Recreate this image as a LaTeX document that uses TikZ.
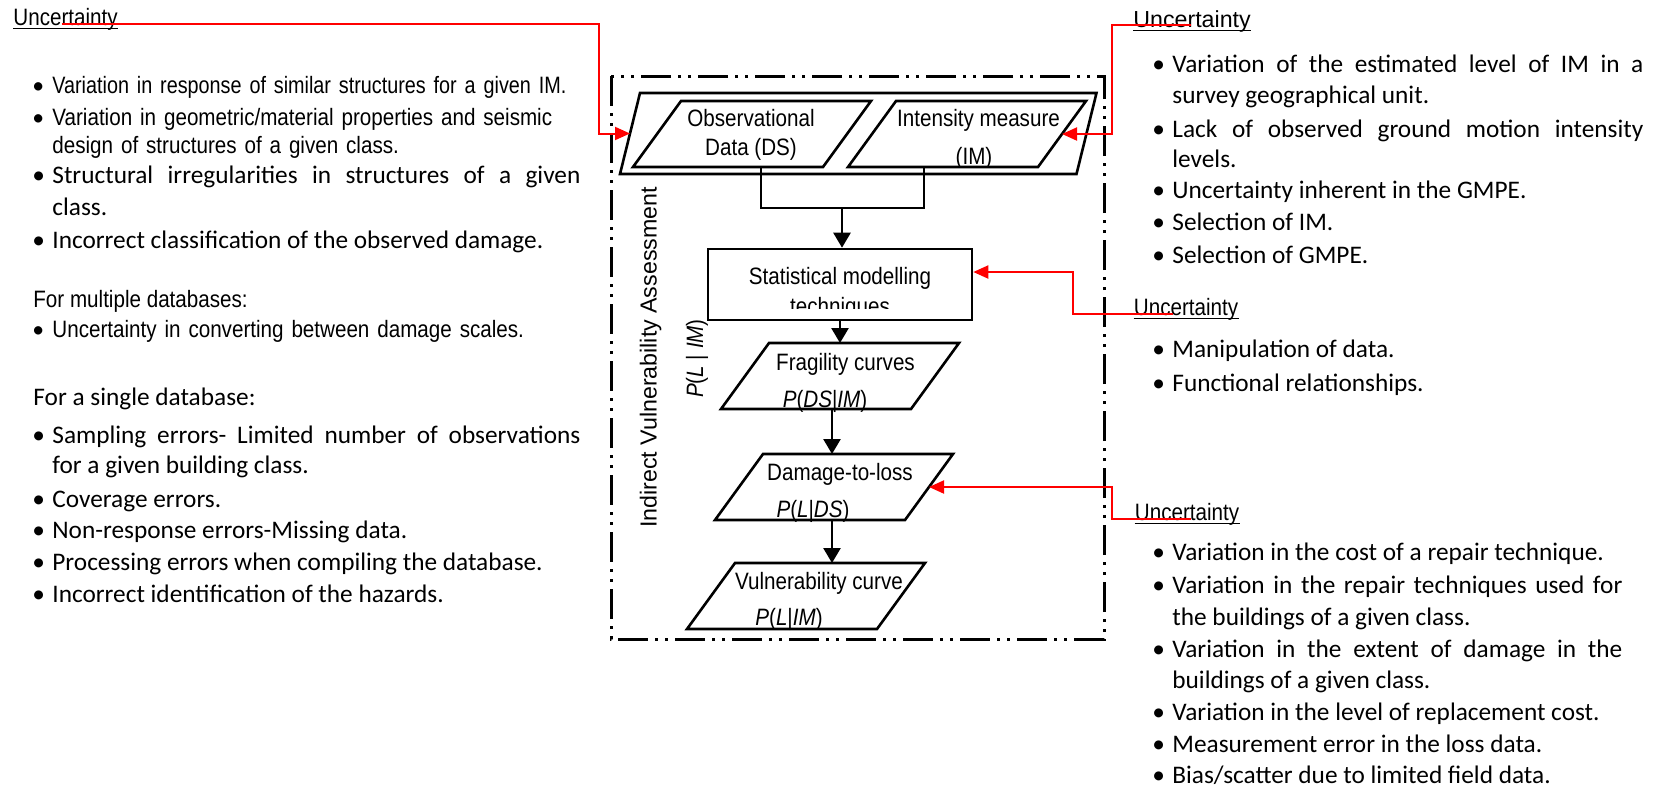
\documentclass[tikz,border=0pt]{standalone}
\usepackage{fontspec}
\setmainfont{Carlito}
\newfontfamily\arialn[FakeStretch=0.87]{Liberation Sans}
\newfontfamily\arialc[FakeStretch=0.835]{Liberation Sans}
\newfontfamily\arial{Liberation Sans}
\usetikzlibrary{arrows.meta,calc}
\tolerance=9999
\hbadness=10000
\newcommand{\calfont}{\fontsize{12.65}{15.5}\selectfont}
\newcommand{\narfont}{\arialn\fontsize{11.85}{14}\selectfont}
\newcommand{\bul}[1]{\hangindent=10pt\hangafter=1\makebox[10pt][l]{\normalfont\textbullet}#1\par}
\begin{document}
\begin{tikzpicture}[x=0.5pt,y=-0.5pt,
  box/.style={draw, line width=1.3pt},
  flow/.style={line width=1.3pt, -{Triangle[length=7.5pt,width=8.5pt]}},
  risk/.style={red, line width=1pt, -{Triangle[length=7.5pt,width=6.5pt]}},
  frame/.style={line width=1.5pt, dash pattern=on 15pt off 3.5pt on 1.5pt off 3.5pt on 1.5pt off 3.5pt},
  lbl/.style={inner sep=0, anchor=base, font=\narfont},
  head/.style={inner sep=0, anchor=base west, font=\narfont},
  calb/.style={inner sep=0, anchor=base west, text width=274pt, align=justify, font=\calfont},
  arl/.style={inner sep=0, anchor=base west, text width=290pt, align=left, font=\narfont}]
\useasboundingbox (0,0) rectangle (1659,788);

% frame of the assessment
\draw[frame] (611,76) rectangle (1104,639);

% input group and the five data blocks
\draw[box] (620,174) coordinate (grp-sw) -- (1076.5,174) coordinate (grp-se)
  -- (1096.5,93) coordinate (grp-ne) -- (640,93) coordinate (grp-nw) -- cycle;
\foreach \n/\x/\y in {obs/633/167, im/848/167, frag/721/409, dmg/715/520, vul/687/629}
  \draw[box] (\x,\y) coordinate (\n-sw) -- ++(190,0) coordinate (\n-se)
    -- ++(48,-66) coordinate (\n-ne) -- ++(-190,0) coordinate (\n-nw) -- cycle;
\node[box, minimum width=132pt, minimum height=35.5pt, inner sep=0] (stat) at (840,284.5) {};

\node[lbl] (obs1) at (751,126.7) {Observational};
\node[lbl] (obs2) at (751,155) {Data (DS)};
\node[lbl] (im1) at (978.5,126.7) {Intensity measure};
\begin{scope}
  \clip (840,90) rectangle (1090,166);
  \node[lbl] (im2) at (974,164) {(IM)};
\end{scope}
\node[lbl] (st1) at (840,284) {Statistical modelling};
\begin{scope}
  \clip (708,250) rectangle (972,308);
  \node[lbl] (st2) at (840,314) {techniques};
\end{scope}
\node[lbl] (fr1) at (845.5,370.7) {Fragility curves};
\node[lbl] (fr2) at (825,407.7) {\textit{P}(\textit{DS}|\textit{IM})};
\node[lbl] (dm1) at (840,480.7) {Damage-to-loss};
\node[lbl] (dm2) at (813,517) {\textit{P}(\textit{L}|\textit{DS})};
\node[lbl] (vu1) at (819,589) {Vulnerability curve};
\node[lbl] (vu2) at (789,625) {\textit{P}(\textit{L}|\textit{IM})};

\node[inner sep=0, anchor=base, rotate=90, font=\arial\fontsize{11.6}{14}\selectfont] (iva) at (656.7,357.5) {Indirect Vulnerability Assessment};
\node[lbl, rotate=90] (pli) at (703,358.5) {\textit{P}(\textit{L} | \textit{IM})};

% flow
\coordinate (join) at (842,208);
\coordinate (fragS) at ([xshift=55.5pt]frag-sw);
\coordinate (dmgS) at ([xshift=58.5pt]dmg-sw);
\draw[box] ([xshift=64pt]obs-sw) |- (join) -| ([xshift=38pt]im-sw);
\draw[flow] (join) -- (join |- stat.north);
\draw[flow] (stat.south) -- (stat.south |- frag-nw);
\draw[flow] (fragS) -- (fragS |- dmg-nw);
\draw[flow] (dmgS) -- (dmgS |- vul-nw);

% left column
\node[head] (hl) at (13,25) {Uncertainty};
\node[arl, font=\arialc\fontsize{11.85}{14}\selectfont] (l1) at (32,93) {\bul{Variation in response of similar structures for a given IM.}};
\node[arl] (l2) at (32,125) {\bul{Variation in geometric/material properties and seismic\newline design of structures of a given class.}};
\node[calb, font=\fontsize{12.65}{16}\selectfont] (l3) at (32,183) {\bul{Structural irregularities in structures of a given\linebreak class.}};
\node[calb] (l4) at (32,248) {\bul{Incorrect classification of the observed damage.}};
\node[head] (lm) at (33,307) {For multiple databases:};
\node[arl] (l5) at (32,337) {\bul{Uncertainty in converting between damage scales.}};
\node[calb] (ls) at (33,405) {For a single database:};
\node[calb, font=\fontsize{12.65}{15}\selectfont] (l6) at (32,443) {\bul{Sampling errors- Limited number of observations\linebreak for a given building class.}};
\node[calb] (l7) at (32,507) {\bul{Coverage errors.}};
\node[calb] (l8) at (32,538) {\bul{Non-response errors-Missing data.}};
\node[calb] (l9) at (32,570) {\bul{Processing errors when compiling the database.}};
\node[calb] (l10) at (32,602) {\bul{Incorrect identification of the hazards.}};

% right column
\node[head, font=\arial\fontsize{11.6}{14}\selectfont] (hr1) at (1133,27) {Uncertainty};
\node[calb, text width=245.5pt] (r1) at (1152,72) {\bul{Variation of the estimated level of IM in a\linebreak survey geographical unit.}};
\node[calb, text width=245.5pt, font=\fontsize{12.65}{15}\selectfont] (r2) at (1152,137) {\bul{Lack of observed ground motion intensity\linebreak levels.}};
\node[calb, text width=245.5pt] (r3) at (1152,198) {\bul{Uncertainty inherent in the GMPE.}};
\node[calb, text width=245.5pt] (r4) at (1152,230) {\bul{Selection of IM.}};
\node[calb, text width=245.5pt] (r5) at (1152,263) {\bul{Selection of GMPE.}};
\node[head] (hr2) at (1133.5,315) {Uncertainty};
\node[calb, text width=245.5pt] (r6) at (1152,357) {\bul{Manipulation of data.}};
\node[calb, text width=245.5pt] (r7) at (1152,391) {\bul{Functional relationships.}};
\node[head] (hr3) at (1134.5,520) {Uncertainty};
\node[calb, text width=235pt] (r8) at (1152,560) {\bul{Variation in the cost of a repair technique.}};
\node[calb, text width=235pt, font=\fontsize{12.65}{16}\selectfont] (r9) at (1152,593) {\bul{Variation in the repair techniques used for\linebreak the buildings of a given class.}};
\node[calb, text width=235pt] (r10) at (1152,657) {\bul{Variation in the extent of damage in the\linebreak buildings of a given class.}};
\node[calb, text width=235pt] (r11) at (1152,720) {\bul{Variation in the level of replacement cost.}};
\node[calb, text width=235pt] (r12) at (1152,752) {\bul{Measurement error in the loss data.}};
\node[calb, text width=235pt] (r13) at (1152,783) {\bul{Bias/scatter due to limited field data.}};

\foreach \h in {hl,hr1,hr2,hr3}
  \draw[line width=0.7pt] ([yshift=-1.8pt]\h.base west) -- ([yshift=-1.8pt]\h.base east);

% uncertainty links
\coordinate (grpW) at ($(grp-sw)!.5!(grp-nw)$);
\coordinate (imE) at ($(im-se)!.5!(im-ne)$);
\coordinate (dmgE) at ($(dmg-se)!.5!(dmg-ne)$);
\coordinate (statE) at ([yshift=6.25pt]stat.east);
\draw[risk] ([xshift=-2pt,yshift=0.5pt]hl.base) -| ([xshift=-15.5pt]grpW) -- (grpW);
\draw[risk] ([xshift=-0.5pt,yshift=1pt]hr1.base) -| ([xshift=25pt]imE) -- (imE);
\draw[risk] ([xshift=-6.75pt,yshift=0.5pt]hr2.base) -| ([xshift=50pt]statE) -- (statE);
\draw[risk] ([xshift=1.75pt,yshift=0.5pt]hr3.base) -| ([xshift=91.5pt]dmgE) -- (dmgE);
\end{tikzpicture}
\end{document}
